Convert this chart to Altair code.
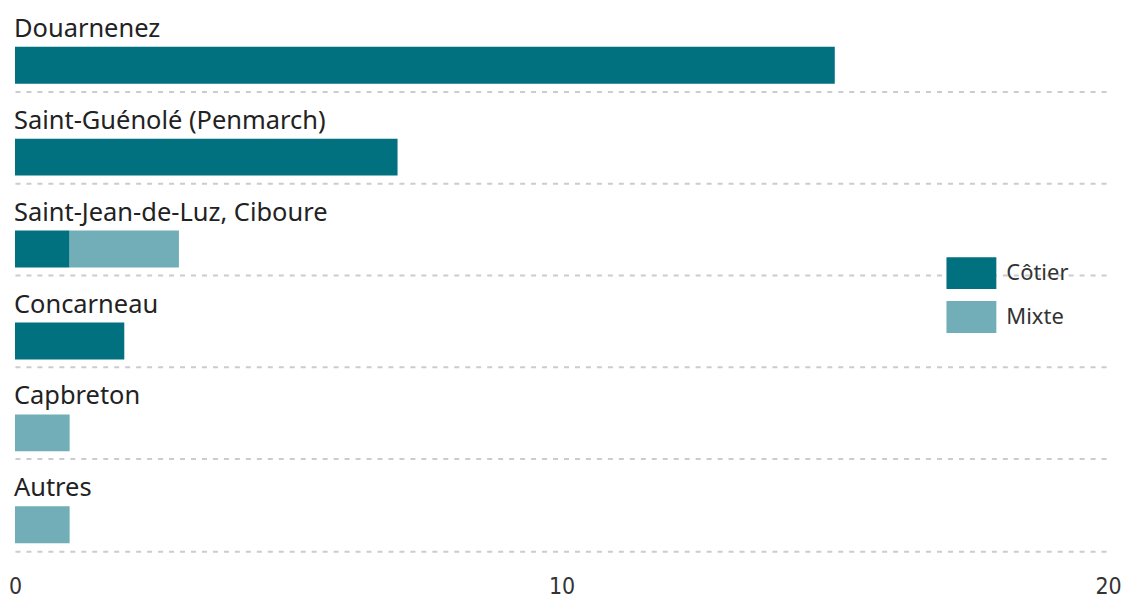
import altair as alt
import pandas as pd

ports = ["Douarnenez", "Saint-Guénolé (Penmarch)", "Saint-Jean-de-Luz, Ciboure",
         "Concarneau", "Capbreton", "Autres"]
cotier = [15, 7, 1, 2, 0, 0]
mixte = [0, 0, 2, 0, 1, 1]
types = ["Côtier", "Mixte"]
colors = ["#02717F", "#71AEB8"]
x_ticks = [0, 10, 20]

rows = []
for i, p in enumerate(ports):
    for t, vals in zip(types, [cotier, mixte]):
        if vals[i] > 0:
            rows.append({"port": p, "type": t, "value": vals[i], "ord": types.index(t)})
df = pd.DataFrame(rows)
labels_df = pd.DataFrame({"port": ports})

yscale = alt.Scale(domain=ports, range=[-9, 544], paddingInner=0, paddingOuter=0)

bars = alt.Chart(df).mark_bar(height=37, yOffset=19.5).encode(
    y=alt.Y("port:N", sort=ports, scale=yscale,
            axis=alt.Axis(title=None, labels=False, ticks=False, domain=False,
                          grid=True, gridDash=[5, 6], gridColor="#cccccc",
                          gridWidth=2, bandPosition=1)),
    x=alt.X("value:Q", stack="zero",
            scale=alt.Scale(domain=[0, 20], nice=False),
            axis=alt.Axis(title=None, values=x_ticks, grid=False, domain=False,
                          ticks=False, labelPadding=24, labelFlush=False,
                          labelFont="'DejaVu Sans Condensed', 'Liberation Sans Narrow', 'Noto Sans'",
                          labelFontSize=23, labelColor="#333333", format="d")),
    color=alt.Color("type:N", scale=alt.Scale(domain=types, range=colors),
                    legend=alt.Legend(title=None, orient="none", legendX=940, legendY=246,
                                      symbolType="M-1.316,-0.842H1.316V0.842H-1.316Z",
                                      symbolSize=1444, symbolStrokeWidth=0,
                                      symbolOpacity=1, rowPadding=9, labelOffset=16,
                                      labelFont="Noto Sans", labelFontSize=22,
                                      labelColor="#333333")),
    order=alt.Order("ord:Q"),
)

text = alt.Chart(labels_df).mark_text(
    align="left", baseline="middle", dy=-17, dx=-1,
    font="Noto Sans", fontSize=25.5, color="#222222"
).encode(
    y=alt.Y("port:N", sort=ports, scale=yscale),
    x=alt.value(0),
    text="port:N",
)

chart = alt.layer(bars, text).properties(
    width=1096, height=544,
    padding={"left": 0, "top": 0, "right": 0, "bottom": 0},
).configure_view(stroke=None)

chart.save("out.html", embed_options={"renderer": "svg", "actions": False})
